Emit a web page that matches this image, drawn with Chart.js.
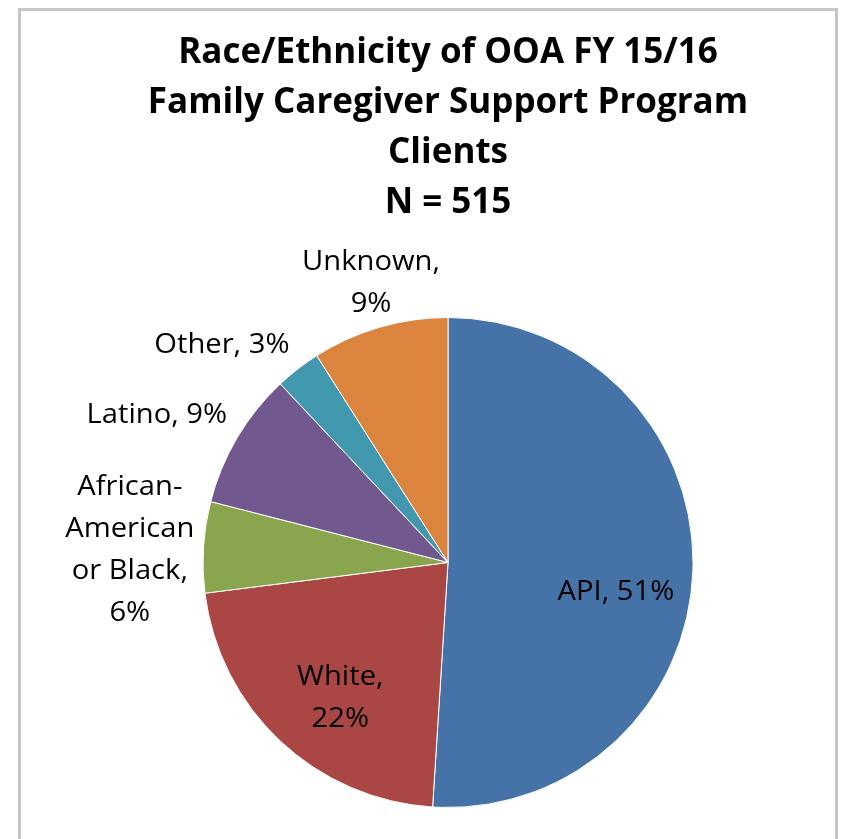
<!DOCTYPE html>
<html>
<head>
<meta charset="utf-8">
<script src="https://cdn.jsdelivr.net/npm/chart.js@4"></script>
<style>
  body { margin: 0; background: #fff; }
  #frame { position: absolute; left: 18px; top: 8px; width: 814px; height: 850px; border: 3px solid #c6c6c6; border-bottom: none; }
  #chart { position: absolute; left: 0; top: 0; }
</style>
</head>
<body>
<div id="frame"></div>
<canvas id="chart" width="842" height="839"></canvas>
<script>
// chart data
const titleLines = ['Race/Ethnicity of OOA FY 15/16', 'Family Caregiver Support Program', 'Clients', 'N = 515'];
const categories = ['API', 'White', 'African-\nAmerican\nor Black', 'Latino', 'Other', 'Unknown'];
const percents = [51, 22, 6, 9, 3, 9];
const labelBreaks = [' ', '\n', '\n', ' ', ' ', '\n'];
const colors = ['#4572A7', '#AA4643', '#89A54E', '#71588F', '#4198AF', '#DB843D'];

// "API, 51%" style labels
const labelText = categories.map((c, i) => c + ',' + labelBreaks[i] + percents[i] + '%');

// where each label sits: turn (deg) from the slice middle, distance as share of radius
const labelPlacement = [
    { turn: 7.7, radius: 0.695 },
    { turn: -4.3, radius: 0.70 },
    { turn: -1.1, radius: 1.30 },
    { turn: -3.5, radius: 1.335 },
    { turn: -8.1, radius: 1.285 },
    { turn: 0.9, radius: 1.19 }
];

const sliceLabelPlugin = {
    id: 'sliceLabels',
    afterDatasetsDraw(chart, args, opts) {
        const ctx = chart.ctx;
        const meta = chart.getDatasetMeta(0);
        ctx.save();
        ctx.font = opts.font;
        ctx.fillStyle = opts.color;
        ctx.textAlign = 'center';
        ctx.textBaseline = 'middle';
        meta.data.forEach((arc, i) => {
            const p = arc.getProps(['x', 'y', 'startAngle', 'endAngle', 'outerRadius'], true);
            const place = opts.placement[i];
            const a = (p.startAngle + p.endAngle) / 2 + place.turn * Math.PI / 180;
            const r = p.outerRadius * place.radius;
            const cx = p.x + Math.cos(a) * r;
            const cy = p.y + Math.sin(a) * r + opts.shift;
            const lines = labelText[i].split('\n');
            lines.forEach((line, k) => {
                ctx.save();
                ctx.translate(cx, cy + (k - (lines.length - 1) / 2) * opts.lineHeight);
                ctx.scale(opts.stretch, 1);
                ctx.fillText(line, 0, 0);
                ctx.restore();
            });
        });
        ctx.restore();
    }
};

const ctx = document.getElementById('chart').getContext('2d');
new Chart(ctx, {
    type: 'pie',
    data: {
        labels: categories,
        datasets: [{
            data: percents,
            backgroundColor: colors,
            borderColor: '#ffffff',
            borderWidth: 1
        }]
    },
    options: {
        responsive: false,
        animation: false,
        layout: {
            padding: { top: 0, bottom: 31, left: 60, right: 6 }
        },
        plugins: {
            legend: { display: false },
            tooltip: { enabled: false },
            title: {
                display: true,
                text: titleLines,
                color: '#000000',
                font: { family: 'Open Sans', weight: 'bold', size: 35, lineHeight: 50 / 35 },
                padding: { top: 28, bottom: 89 }
            },
            sliceLabels: {
                font: '27px "Open Sans"',
                color: '#000000',
                lineHeight: 42,
                stretch: 1.08,
                shift: 2,
                placement: labelPlacement
            }
        }
    },
    plugins: [sliceLabelPlugin]
});
</script>
</body>
</html>
